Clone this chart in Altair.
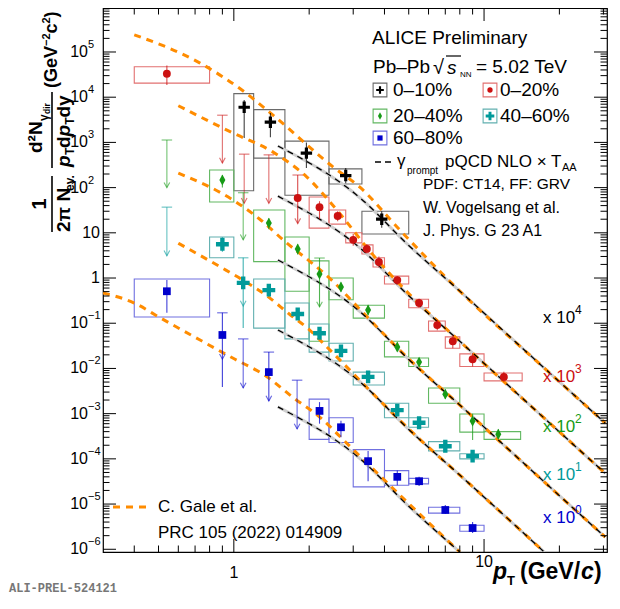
import altair as alt
import pandas as pd

W, H = 504, 544
X_DOMAIN = [0.3, 31.0]
Y_DOMAIN = [8.7e-7, 9.4e5]
FONT = "Liberation Sans"

COL = {"010": "#000000", "020": "#cc1111", "2040": "#179b17", "4060": "#009a9a", "6080": "#0000cc"}
BOXCOL = {"010": "#6a6a6a", "020": "#e27070", "2040": "#62b862", "4060": "#62b0b0", "6080": "#7070e0"}
ORANGE = "#ff8c00"

# ---------------- data: 0-10 % (x 10^4) ----------------
c010_x = [1.1, 1.4, 1.95, 2.8, 3.9]
c010_y = [6000, 2800, 580, 185, 20]
c010_lo = [1250, 1300, 270, 125, 13]
c010_hi = [8700, 4500, 1000, 270, 30]
c010_bx1 = [1.0, 1.2, 1.6, 2.4, 3.25]
c010_bx2 = [1.2, 1.6, 2.4, 3.25, 5.0]
c010_by1 = [85, 450, 68, 120, 9.4]
c010_by2 = [12000, 5300, 1070, 260, 30]

# ---------------- 0-20 % (x 10^3) ----------------
c020_x = [0.54, 1.8, 2.2, 2.6, 3.0, 3.4, 3.8, 4.5, 5.5, 6.5, 7.5, 9.0, 12.0]
c020_y = [33000, 59, 37, 23.5, 7.0, 4.4, 2.26, 0.9, 0.28, 0.091, 0.040, 0.016, 0.0065]
c020_lo = [18500, 16, 20, 18, 5.2, 3.5, 1.7, 0.7, 0.22, 0.07, 0.028, 0.011, 0.0050]
c020_hi = [50000, 190, 50, 30, 9.5, 5.6, 3.0, 1.1, 0.35, 0.12, 0.055, 0.022, 0.0085]
c020_bx1 = [0.40, 2.0, 2.4, 2.8, 3.25, 3.6, 4.0, 5.0, 6.0, 7.0, 8.0, 10.0]
c020_bx2 = [0.80, 2.4, 2.8, 3.25, 3.6, 4.0, 5.0, 6.0, 7.0, 8.0, 10.0, 14.2]
c020_by1 = [20500, 12.7, 15.6, 6.0, 3.4, 1.75, 0.74, 0.22, 0.067, 0.028, 0.011, 0.0053]
c020_by2 = [47000, 62, 32, 10, 5.4, 2.8, 1.1, 0.34, 0.112, 0.05, 0.021, 0.0079]
c020_ulx = [0.9, 1.1, 1.38]
c020_ultop = [4000, 550, 530]
c020_ultip = [350, 45, 45]
c020_capx = [1.8]
c020_capy = [190]
c020_arrx = [1.8]
c020_arry = [16]

# ---------------- 20-40 % (x 10^2) ----------------
c2040_x = [0.9, 1.38, 1.8, 2.2, 2.68, 3.44, 4.5, 5.5, 7.0, 9.0, 11.4]
c2040_y = [148, 16.4, 4.4, 1.22, 0.63, 0.196, 0.0297, 0.0138, 0.0027, 0.00069, 0.00035]
c2040_lo = [100, 12, 3.3, 0.23, 0.5, 0.15, 0.024, 0.011, 0.0021, 0.00026, 0.00028]
c2040_hi = [190, 21, 5.6, 2.77, 0.8, 0.25, 0.037, 0.017, 0.0034, 0.001, 0.00045]
c2040_bx1 = [0.8, 1.2, 1.6, 2.0, 2.4, 3.0, 4.0, 5.0, 6.0, 8.0, 10.0]
c2040_bx2 = [1.0, 1.6, 2.0, 2.4, 3.0, 4.0, 5.0, 6.0, 8.0, 10.0, 14.0]
c2040_by1 = [48, 2.3, 0.51, 0.04, 0.33, 0.13, 0.018, 0.011, 0.0017, 0.00039, 0.00027]
c2040_by2 = [245, 32, 8.1, 2.4, 1.0, 0.25, 0.04, 0.017, 0.0037, 0.00098, 0.0004]
c2040_ulx = [0.54, 1.09]
c2040_ultop = [1130, 77]
c2040_ultip = [100, 7]
c2040_capx = [2.2]
c2040_capy = [2.77]
c2040_arrx = [2.2]
c2040_arry = [0.23]

# ---------------- 40-60 % (x 10) ----------------
c4060_x = [0.9, 1.09, 1.38, 1.8, 2.2, 2.68, 3.44, 4.5, 5.5, 7.0, 9.0]
c4060_y = [5.6, 0.78, 0.54, 0.16, 0.06, 0.0244, 0.0065, 0.0012, 0.00063, 0.00019, 0.000115]
c4060_lo = [3.8, 0.078, 0.4, 0.12, 0.045, 0.018, 0.0052, 0.00095, 0.00052, 0.00016, 0.0001]
c4060_hi = [8.0, 2.8, 0.7, 0.21, 0.08, 0.032, 0.008, 0.0015, 0.00075, 0.00023, 0.00013]
c4060_bx1 = [0.8, 1.2, 1.6, 2.0, 2.4, 3.0, 4.0, 5.0, 6.0, 8.0]
c4060_bx2 = [1.0, 1.6, 2.0, 2.4, 3.0, 4.0, 5.0, 6.0, 8.0, 10.0]
c4060_by1 = [2.8, 0.078, 0.045, 0.023, 0.0146, 0.0043, 0.00081, 0.0005, 0.00015, 0.0001]
c4060_by2 = [8.1, 0.95, 0.28, 0.096, 0.036, 0.0083, 0.0017, 0.00081, 0.00024, 0.00013]
c4060_ulx = [0.54]
c4060_ultop = [37]
c4060_ultip = [3.1]
c4060_capx = [1.09]
c4060_capy = [2.8]
c4060_arrx = [1.09]
c4060_arry = [0.24]

# ---------------- 60-80 % (x 1) ----------------
c6080_x = [0.54, 0.9, 1.38, 2.2, 2.68, 3.44, 4.5, 5.5, 7.0, 9.0]
c6080_y = [0.51, 0.055, 0.0083, 0.00115, 0.0005, 8.9e-5, 4.0e-5, 3.2e-5, 7.4e-6, 2.95e-6]
c6080_lo = [0.17, 0.0039, 0.0019, 0.0006, 0.0003, 3.2e-5, 2.6e-5, 2.5e-5, 6.0e-6, 2.3e-6]
c6080_hi = [0.9, 0.17, 0.023, 0.0018, 0.0007, 1.5e-4, 5.5e-5, 4.0e-5, 9.5e-6, 4.0e-6]
c6080_bx1 = [0.4, 2.0, 2.4, 3.0, 4.0, 5.0, 6.0, 8.0]
c6080_bx2 = [0.8, 2.4, 3.0, 4.0, 5.0, 6.0, 8.0, 10.0]
c6080_by1 = [0.137, 2.7e-4, 2.3e-4, 2.4e-5, 2.6e-5, 2.8e-5, 6.3e-6, 2.5e-6]
c6080_by2 = [0.95, 0.0021, 0.00081, 1.6e-4, 5.5e-5, 3.7e-5, 8.5e-6, 3.4e-6]
c6080_ulx = [1.09, 1.79]
c6080_ultop = [0.045, 0.0055]
c6080_ultip = [0.0037, 0.00046]
c6080_capx = [0.9, 1.38]
c6080_capy = [0.17, 0.023]
c6080_arrx = [0.9, 1.38]
c6080_arry = [0.016, 0.0019]

# ---------------- pQCD NLO x T_AA (black dashed) ----------------
pqcd_x = [1.5, 3.2, 5.0, 8.0, 17.4, 30.5]
pqcd_010 = [832, 58.9, 5.25, 0.513, 0.0102, 6.17e-4]
pqcd_020 = [64.6, 4.57, 0.407, 0.0398, 7.94e-4, 4.79e-5]
pqcd_2040 = [2.51, 0.178, 0.0158, 1.55e-3, 3.09e-5, 1.86e-6]
pqcd_4060 = [0.0708, 5.01e-3, 4.47e-4, 4.37e-5, 8.7e-7]
pqcd_6080 = [1.41e-3, 1.0e-4, 8.91e-6, 8.7e-7]

# ---------------- C. Gale et al. (orange dashed) ----------------
gale010_x = [0.40, 0.73, 1.10, 1.43, 2.49, 3.19, 4.61, 8.0, 17.4, 30.5]
gale010_y = [2.40e5, 5.75e4, 1.32e4, 4.07e3, 288, 102, 11.5, 0.513, 0.0102, 6.17e-4]
gale020_x = [0.60, 0.99, 1.43, 1.96, 2.63, 3.55, 5.01, 8.0, 17.4, 30.5]
gale020_y = [6460, 1620, 617, 170, 28.2, 3.55, 0.447, 0.0398, 7.94e-4, 4.79e-5]
gale2040_x = [0.60, 0.99, 1.27, 1.63, 2.0, 2.51, 2.99, 4.92, 8.0, 17.4, 30.5]
gale2040_y = [209, 53.7, 20.0, 5.89, 2.40, 0.813, 0.295, 0.0178, 1.55e-3, 3.09e-5, 1.86e-6]
gale4060_x = [0.60, 0.88, 1.09, 1.36, 1.67, 2.01, 2.36, 2.83, 3.98, 5.62, 8.0, 17.4]
gale4060_y = [5.89, 1.78, 0.891, 0.398, 0.158, 0.0708, 0.0295, 0.0107, 1.58e-3, 2.51e-4, 4.37e-5, 8.7e-7]
gale6080_x = [0.30, 0.40, 0.51, 0.73, 0.99, 1.36, 1.72, 2.21, 2.83, 4.61, 8.0]
gale6080_y = [0.47, 0.28, 0.13, 0.043, 0.017, 6.5e-3, 2.3e-3, 8.3e-4, 2.2e-4, 1.58e-5, 8.7e-7]

# ---------------- tick labels ----------------
ylab_exp_vals = [1e-6, 1e-5, 1e-4, 1e-3, 1e-2, 1e-1, 1e2, 1e3, 1e4, 1e5]
ylab_exp_text = ["\u22126", "\u22125", "\u22124", "\u22123", "\u22122", "\u22121", "2", "3", "4", "5"]
ylab_plain_vals = [1, 10]
ylab_plain_text = ["1", "10"]
xt_major = [1, 10]
xt_minor = [0.4, 0.5, 0.6, 0.7, 0.8, 0.9, 2, 3, 4, 5, 6, 7, 8, 9, 20, 30]
yt_major = [10.0 ** k for k in range(-6, 6)]
yt_minor = [m * 10.0 ** k for k in range(-6, 6) for m in range(2, 10) if m * 10.0 ** k < Y_DOMAIN[1]]

# ---------------- helpers ----------------
xs = alt.Scale(type="log", domain=X_DOMAIN, nice=False)
ys = alt.Scale(type="log", domain=Y_DOMAIN, nice=False)


def X(f):
    return alt.X(f, type="quantitative", scale=xs, axis=None)


def Y(f):
    return alt.Y(f, type="quantitative", scale=ys, axis=None)


ONE = pd.DataFrame({"k": [0]})

CROSS_THIN = "M-1,-0.28L-0.28,-0.28L-0.28,-1L0.28,-1L0.28,-0.28L1,-0.28L1,0.28L0.28,0.28L0.28,1L-0.28,1L-0.28,0.28L-1,0.28Z"
CROSS_THICK = "M-1,-0.34L-0.34,-0.34L-0.34,-1L0.34,-1L0.34,-0.34L1,-0.34L1,0.34L0.34,0.34L0.34,1L-0.34,1L-0.34,0.34L-1,0.34Z"
DIAMOND = "M0,-1L0.55,0L0,1L-0.55,0Z"
CAP = "M-1,0L1,0"
ARROW = "M-0.6,-1.1L0,0L0.6,-1.1"

MARK = {"010": (CROSS_THIN, 130), "020": ("circle", 62), "2040": (DIAMOND, 120),
        "4060": (CROSS_THICK, 165), "6080": ("square", 60)}

SER = {
    "010": dict(x=c010_x, y=c010_y, lo=c010_lo, hi=c010_hi, bx1=c010_bx1, bx2=c010_bx2, by1=c010_by1, by2=c010_by2),
    "020": dict(x=c020_x, y=c020_y, lo=c020_lo, hi=c020_hi, bx1=c020_bx1, bx2=c020_bx2, by1=c020_by1, by2=c020_by2,
                ulx=c020_ulx, ultop=c020_ultop, ultip=c020_ultip, capx=c020_capx, capy=c020_capy,
                arrx=c020_arrx, arry=c020_arry),
    "2040": dict(x=c2040_x, y=c2040_y, lo=c2040_lo, hi=c2040_hi, bx1=c2040_bx1, bx2=c2040_bx2, by1=c2040_by1, by2=c2040_by2,
                 ulx=c2040_ulx, ultop=c2040_ultop, ultip=c2040_ultip, capx=c2040_capx, capy=c2040_capy,
                 arrx=c2040_arrx, arry=c2040_arry),
    "4060": dict(x=c4060_x, y=c4060_y, lo=c4060_lo, hi=c4060_hi, bx1=c4060_bx1, bx2=c4060_bx2, by1=c4060_by1, by2=c4060_by2,
                 ulx=c4060_ulx, ultop=c4060_ultop, ultip=c4060_ultip, capx=c4060_capx, capy=c4060_capy,
                 arrx=c4060_arrx, arry=c4060_arry),
    "6080": dict(x=c6080_x, y=c6080_y, lo=c6080_lo, hi=c6080_hi, bx1=c6080_bx1, bx2=c6080_bx2, by1=c6080_by1, by2=c6080_by2,
                 ulx=c6080_ulx, ultop=c6080_ultop, ultip=c6080_ultip, capx=c6080_capx, capy=c6080_capy,
                 arrx=c6080_arrx, arry=c6080_arry),
}


def txt(text, x, y, size, color="black", align="left", baseline="middle",
        weight="normal", style="normal", angle=0, font=FONT):
    return alt.Chart(ONE).mark_text(
        text=text, align=align, baseline=baseline, fontSize=size, font=font,
        fontWeight=weight, fontStyle=style, color=color, angle=angle
    ).encode(x=alt.value(x), y=alt.value(y))


def prule(x1, y1, x2, y2, color="black", width=1.0, dash=None):
    kw = dict(color=color, strokeWidth=width)
    if dash:
        kw["strokeDash"] = dash
    return alt.Chart(ONE).mark_rule(**kw).encode(
        x=alt.value(x1), y=alt.value(y1), x2=alt.value(x2), y2=alt.value(y2))


def psym(shape, x, y, size, color, filled=True, width=1.0):
    kw = dict(shape=shape, size=size, filled=filled, opacity=1, strokeWidth=width)
    if filled:
        kw["fill"] = color
    else:
        kw["stroke"] = color
    return alt.Chart(ONE).mark_point(**kw).encode(x=alt.value(x), y=alt.value(y))


layers = []

# ---- systematic boxes ----
for key, s in SER.items():
    bdf = pd.DataFrame({"x1": s["bx1"], "x2": s["bx2"], "y1": s["by1"], "y2": s["by2"]})
    layers.append(alt.Chart(bdf).mark_rect(fillOpacity=0, stroke=BOXCOL[key], strokeWidth=1.1).encode(
        x=X("x1"), x2=alt.X2("x2"), y=Y("y1"), y2=alt.Y2("y2")))

# ---- pQCD band (grey, below) ----
pq = [(pqcd_x, pqcd_010), (pqcd_x, pqcd_020), (pqcd_x, pqcd_2040),
      (pqcd_x[:5], pqcd_4060), (pqcd_x[:4], pqcd_6080)]
for px_, py_ in pq:
    d = pd.DataFrame({"x": px_, "y": py_})
    layers.append(alt.Chart(d).mark_line(color="#cfcfcf", strokeWidth=3, interpolate="monotone", clip=True).encode(
        x=X("x"), y=Y("y")))

# ---- Gale lines ----
for gx, gy in [(gale010_x, gale010_y), (gale020_x, gale020_y), (gale2040_x, gale2040_y),
               (gale4060_x, gale4060_y), (gale6080_x, gale6080_y)]:
    d = pd.DataFrame({"x": gx, "y": gy})
    layers.append(alt.Chart(d).mark_line(color=ORANGE, strokeWidth=3, strokeDash=[7, 6],
                                         interpolate="monotone", clip=True).encode(x=X("x"), y=Y("y")))

# ---- pQCD dashed (black, above the orange) ----
for px_, py_ in pq:
    d = pd.DataFrame({"x": px_, "y": py_})
    layers.append(alt.Chart(d).mark_line(color="black", strokeWidth=1.3, strokeDash=[6, 5],
                                         interpolate="monotone", clip=True).encode(x=X("x"), y=Y("y")))

# ---- error bars, limits, points ----
for key, s in SER.items():
    c = COL[key]
    edf = pd.DataFrame({"x": s["x"], "y": s["y"], "lo": s["lo"], "hi": s["hi"]})
    layers.append(alt.Chart(edf).mark_rule(color=c, strokeWidth=1.1, opacity=0.75).encode(
        x=X("x"), y=Y("lo"), y2=alt.Y2("hi")))
    if "ulx" in s:
        udf = pd.DataFrame({"x": s["ulx"], "top": s["ultop"], "tip": s["ultip"]})
        layers.append(alt.Chart(udf).mark_rule(color=c, strokeWidth=1.1, opacity=0.6).encode(
            x=X("x"), y=Y("top"), y2=alt.Y2("tip")))
        layers.append(alt.Chart(udf).mark_point(shape=CAP, size=110, filled=False, stroke=c, strokeWidth=1.1,
                                                opacity=0.6).encode(x=X("x"), y=Y("top")))
        layers.append(alt.Chart(udf).mark_point(shape=ARROW, size=90, filled=False, stroke=c, strokeWidth=1.1,
                                                opacity=0.6).encode(x=X("x"), y=Y("tip")))
        cdf = pd.DataFrame({"x": s["capx"], "y": s["capy"]})
        layers.append(alt.Chart(cdf).mark_point(shape=CAP, size=110, filled=False, stroke=c, strokeWidth=1.1,
                                                opacity=0.6).encode(x=X("x"), y=Y("y")))
        adf = pd.DataFrame({"x": s["arrx"], "y": s["arry"]})
        layers.append(alt.Chart(adf).mark_point(shape=ARROW, size=90, filled=False, stroke=c, strokeWidth=1.1,
                                                opacity=0.6).encode(x=X("x"), y=Y("y")))
    shp, sz = MARK[key]
    layers.append(alt.Chart(edf).mark_point(shape=shp, size=sz, filled=True, fill=c, opacity=1).encode(
        x=X("x"), y=Y("y")))

# ---- ticks (inside the frame, all four sides) ----
for vals, L in [(xt_major, 13), (xt_minor, 6.5)]:
    d = pd.DataFrame({"v": vals})
    layers.append(alt.Chart(d).mark_rule(color="black", strokeWidth=1).encode(
        x=X("v"), y=alt.value(H), y2=alt.value(H - L)))
    layers.append(alt.Chart(d).mark_rule(color="black", strokeWidth=1).encode(
        x=X("v"), y=alt.value(0), y2=alt.value(L)))
for vals, L in [(yt_major, 13), (yt_minor, 6.5)]:
    d = pd.DataFrame({"v": vals})
    layers.append(alt.Chart(d).mark_rule(color="black", strokeWidth=1).encode(
        y=Y("v"), x=alt.value(0), x2=alt.value(L)))
    layers.append(alt.Chart(d).mark_rule(color="black", strokeWidth=1).encode(
        y=Y("v"), x=alt.value(W), x2=alt.value(W - L)))

# ---- tick labels ----
ye = pd.DataFrame({"v": ylab_exp_vals, "t": ylab_exp_text})
layers.append(alt.Chart(ye).mark_text(text="10", align="right", baseline="middle", fontSize=16, font=FONT).encode(
    x=alt.value(-15), y=Y("v")))
layers.append(alt.Chart(ye).mark_text(align="left", baseline="middle", fontSize=11, font=FONT, dy=-7).encode(
    x=alt.value(-15), y=Y("v"), text="t:N"))
yp = pd.DataFrame({"v": ylab_plain_vals, "t": ylab_plain_text})
layers.append(alt.Chart(yp).mark_text(align="right", baseline="middle", fontSize=16, font=FONT).encode(
    x=alt.value(-3), y=Y("v"), text="t:N"))
layers.append(alt.Chart(pd.DataFrame({"v": [1]})).mark_text(text="1", align="center", baseline="middle",
                                                            fontSize=16, font=FONT).encode(x=X("v"), y=alt.value(565)))
layers.append(alt.Chart(pd.DataFrame({"v": [10]})).mark_text(text="10", align="center", baseline="middle",
                                                             fontSize=16, font=FONT).encode(x=X("v"), y=alt.value(554)))

# ---- x title ----
layers += [
    txt("p", 390, 571, 23, weight="bold", style="italic", baseline="alphabetic"),
    txt("T", 404, 577, 13, weight="bold", baseline="alphabetic"),
    txt("(GeV/", 417, 571, 23, weight="bold", baseline="alphabetic"),
    txt("c", 478, 571, 23, weight="bold", style="italic", baseline="alphabetic"),
    txt(")", 491, 571, 23, weight="bold", baseline="alphabetic"),
]

# ---- y title (rotated pieces) ----
A = 270
layers += [
    txt("1", -63, 196, 20, weight="bold", angle=A, align="center"),
    prule(-51, 168, -51, 224, width=1.6),
    txt("2\u03c0 N", -39, 224, 19, weight="bold", angle=A),
    txt("ev.", -33, 183, 12, weight="bold", angle=A),
    prule(-51, 84, -51, 160, width=1.6),
    txt("d\u00b2N", -67, 145, 19, weight="bold", angle=A),
    txt("\u03b3", -59, 113, 12, weight="bold", angle=A),
    txt("dir", -56, 106, 8.5, weight="bold", angle=A),
    txt("p", -39, 159, 19, weight="bold", style="italic", angle=A),
    txt("T", -33, 147, 12, weight="bold", angle=A),
    txt("d", -39, 140, 19, weight="bold", angle=A),
    txt("p", -39, 128.4, 19, weight="bold", style="italic", angle=A),
    txt("T", -33, 116.8, 12, weight="bold", angle=A),
    txt("dy", -39, 109.5, 19, weight="bold", angle=A),
    txt("(GeV", -51, 80, 18, weight="bold", angle=A),
    txt("\u22122", -56, 38, 11, weight="bold", angle=A),
    txt("c", -51, 25.5, 18, weight="bold", angle=A),
    txt("2", -56, 15.5, 11, weight="bold", angle=A),
    txt(")", -51, 9.5, 18, weight="bold", angle=A),
]

# ---- header / legend ----
layers += [
    txt("ALICE Preliminary", 269, 30, 19),
    txt("Pb\u2013Pb", 270, 59, 19),
    txt("\u221a", 330, 60, 20),
    prule(343, 48, 358, 48, width=1.2),
    txt("s", 344, 60, 19, style="italic"),
    txt("NN", 357, 67, 8),
    txt("= 5.02 TeV", 373, 59, 19),
]
leg = [("010", "0\u201310%", 277, 290, 82), ("020", "0\u201320%", 387, 397, 82),
       ("2040", "20\u201340%", 277, 290, 108), ("4060", "40\u201360%", 387, 397, 108),
       ("6080", "60\u201380%", 277, 290, 130)]
for key, label, bx, tx, ty in leg:
    shp, sz = MARK[key]
    layers.append(psym("square", bx, ty, 190, BOXCOL[key], filled=False, width=1.1))
    layers.append(psym(shp, bx, ty, sz * 0.45, COL[key]))
    layers.append(txt(label, tx, ty, 19))
layers += [
    prule(272, 154, 290, 154, width=1.3, dash=[6, 4]),
    txt("\u03b3", 294, 153, 17),
    txt("prompt", 304, 163, 10),
    txt("pQCD NLO \u00d7 T", 342, 154, 17),
    txt("AA", 459, 160, 11),
    txt("PDF: CT14, FF: GRV", 320, 176, 15.5),
    txt("W. Vogelsang et al.", 320, 200, 16),
    txt("J. Phys. G 23 A1", 320, 223, 16),
]

# ---- scale factors ----
for lab, exp_, yy, key in [("x 10", "4", 310, "010"), ("x 10", "3", 369, "020"), ("x 10", "2", 419, "2040"),
                           ("x 10", "1", 467, "4060"), ("x 10", "0", 510, "6080")]:
    layers.append(txt(lab, 440, yy, 17, color=COL[key]))
    layers.append(txt(exp_, 472, yy - 8, 12, color=COL[key]))

# ---- Gale legend ----
layers += [
    prule(10, 499, 44, 499, color=ORANGE, width=3, dash=[7, 6]),
    txt("C. Gale et al.", 55, 499, 17),
    txt("PRC 105 (2022) 014909", 55, 525, 17),
    txt("ALI-PREL-524121", -94, 584, 12, color="#777777", font="Liberation Mono", weight="bold",
        baseline="alphabetic"),
]

chart = alt.layer(*layers).properties(
    width=W, height=H,
    padding={"left": 95, "top": 0, "right": 5, "bottom": 45},
    autosize=alt.AutoSizeParams(type="none"),
    background="white",
).configure_view(stroke="black", strokeWidth=1.2)

chart.save("out.html", embed_options={"renderer": "svg", "actions": False})
